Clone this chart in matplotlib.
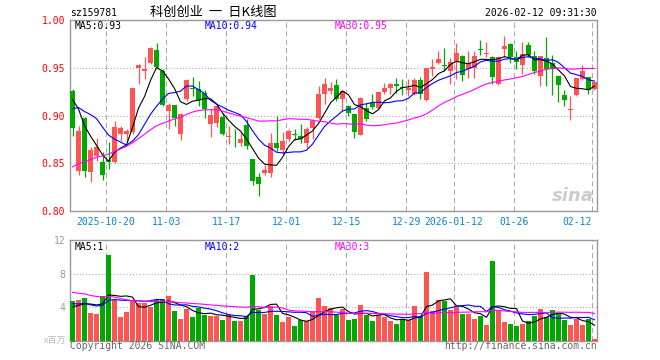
import numpy as np
import matplotlib
matplotlib.use('Agg')
import matplotlib.pyplot as plt

# 日K数据: 2025-10-10 .. 2026-02-12, 共88根
opens = [0.926, 0.8417, 0.8972, 0.8406, 0.858, 0.851, 0.853, 0.851, 0.8806, 0.8806,
         0.8823, 0.950, 0.9465, 0.9552, 0.9688, 0.9465, 0.9049, 0.9111, 0.8806, 0.917,
         0.9285, 0.9274, 0.924, 0.891, 0.8917, 0.8986, 0.8778, 0.8747, 0.8708, 0.8903,
         0.8545, 0.8354, 0.8396, 0.8396, 0.8708, 0.8642, 0.8753, 0.8802, 0.8788, 0.8708,
         0.8868, 0.8972, 0.9229, 0.9257, 0.9319, 0.917, 0.910, 0.9014, 0.8799, 0.9083,
         0.9135, 0.9076, 0.925, 0.9292, 0.9333, 0.9295, 0.9271, 0.9229, 0.9368, 0.916,
         0.9483, 0.9552, 0.9528, 0.9465, 0.9569, 0.9621, 0.9483, 0.950, 0.9694, 0.9639,
         0.9611, 0.9333, 0.9701, 0.975, 0.9611, 0.9528, 0.9743, 0.9621, 0.9413, 0.9604,
         0.9549, 0.9417, 0.9219, 0.9058, 0.9219, 0.9382, 0.9403, 0.9278]
highs = [0.928, 0.8892, 0.898, 0.8667, 0.8764, 0.8615, 0.872, 0.8938, 0.8892, 0.8858,
         0.929, 0.9535, 0.9611, 0.9715, 0.976, 0.9483, 0.9135, 0.9115, 0.9031, 0.9385,
         0.9403, 0.9361, 0.9264, 0.9066, 0.911, 0.903, 0.8892, 0.8858, 0.8823, 0.8962,
         0.8548, 0.8396, 0.8493, 0.8813, 0.899, 0.8823, 0.8858, 0.8858, 0.891, 0.8875,
         0.8962, 0.9309, 0.9396, 0.9351, 0.9378, 0.9264, 0.9105, 0.902, 0.9194, 0.9135,
         0.9222, 0.9257, 0.9344, 0.9344, 0.9396, 0.9378, 0.9382, 0.9396, 0.9403, 0.950,
         0.9587, 0.968, 0.9708, 0.9604, 0.976, 0.9638, 0.9674, 0.9674, 0.9795, 0.9771,
         0.9621, 0.9621, 0.983, 0.976, 0.9674, 0.9771, 0.9771, 0.9674, 0.9625, 0.982,
         0.9635, 0.9425, 0.927, 0.920, 0.9392, 0.9531, 0.9405, 0.935]
lows = [0.879, 0.8372, 0.8361, 0.8302, 0.8528, 0.832, 0.844, 0.850, 0.8736, 0.8729,
        0.8806, 0.9326, 0.9385, 0.9535, 0.950, 0.910, 0.8858, 0.8892, 0.8743, 0.915,
        0.9205, 0.910, 0.8979, 0.8778, 0.8875, 0.880, 0.8701, 0.8674, 0.868, 0.8653,
        0.8275, 0.816, 0.8372, 0.8354, 0.8632, 0.8597, 0.8736, 0.8743, 0.8708, 0.866,
        0.8753, 0.8962, 0.9125, 0.9229, 0.915, 0.9049, 0.899, 0.8764, 0.8795, 0.8938,
        0.9066, 0.9066, 0.9229, 0.9229, 0.9236, 0.9215, 0.9208, 0.9215, 0.917, 0.915,
        0.9413, 0.9535, 0.9465, 0.9326, 0.9378, 0.9361, 0.9396, 0.9389, 0.9632, 0.9611,
        0.9333, 0.9323, 0.9611, 0.9552, 0.9483, 0.9438, 0.9611, 0.9438, 0.9309, 0.9306,
        0.9219, 0.9139, 0.9097, 0.8958, 0.9208, 0.9375, 0.923, 0.9271]
closes = [0.8868, 0.884, 0.8424, 0.8639, 0.8667, 0.8372, 0.851, 0.8882, 0.8865, 0.8833,
          0.9285, 0.9524, 0.9483, 0.9708, 0.9507, 0.9111, 0.9108, 0.8979, 0.9014, 0.9368,
          0.928, 0.916, 0.9066, 0.9003, 0.910, 0.8806, 0.8785, 0.874, 0.8753, 0.8684,
          0.8313, 0.8278, 0.8431, 0.8708, 0.866, 0.8729, 0.884, 0.8795, 0.8753, 0.8858,
          0.8944, 0.9229, 0.9333, 0.9292, 0.917, 0.9257, 0.9031, 0.8823, 0.918, 0.8962,
          0.909, 0.925, 0.9285, 0.9333, 0.9309, 0.9288, 0.9285, 0.9368, 0.9229, 0.9493,
          0.9507, 0.9594, 0.9521, 0.9562, 0.9656, 0.9424, 0.9552, 0.9621, 0.9688, 0.9653,
          0.9403, 0.9611, 0.9726, 0.9611, 0.9562, 0.9646, 0.9632, 0.9465, 0.9621, 0.9486,
          0.9486, 0.9323, 0.916, 0.9063, 0.9392, 0.9462, 0.9271, 0.9347]
# 成交量 (百万)
volumes = [4.68, 4.88, 5.12, 3.32, 3.2, 5.36, 10.16, 4.88, 2.76, 3.44,
           4.68, 4.48, 4.48, 3.96, 4.88, 5.0, 5.28, 3.48, 2.6, 3.8,
           2.76, 3.88, 3.0, 2.88, 2.88, 2.48, 3.2, 2.36, 2.28, 2.88,
           7.8, 3.6, 3.16, 4.08, 3.08, 2.24, 2.76, 1.76, 2.4, 2.28,
           3.36, 5.12, 4.08, 3.88, 3.08, 3.8, 2.4, 2.6, 4.28, 3.08,
           2.28, 3.0, 2.8, 2.28, 2.0, 2.56, 2.4, 4.16, 2.96, 8.16,
           3.48, 4.88, 4.76, 3.6, 4.0, 3.2, 3.2, 2.6, 2.96, 1.88,
           9.48, 3.68, 2.16, 2.0, 1.76, 2.0, 2.36, 2.96, 3.8, 2.8,
           3.6, 3.16, 2.4, 1.88, 2.56, 1.88, 2.56, 0.2]

# 窗口之前29天 (图中不可见), 按均线起点反推的估计值
prior_closes = [0.78, 0.79, 0.785, 0.795, 0.80, 0.79, 0.805, 0.81, 0.80, 0.815,
                0.82, 0.815, 0.83, 0.825, 0.835, 0.84, 0.83, 0.845, 0.85, 0.854,
                0.87, 0.885, 0.895, 0.91, 0.925, 0.935, 0.93, 0.918, 0.915]
prior_volumes = [8.5, 7.2, 9.0, 6.8, 7.5, 8.2, 6.9, 7.9, 8.3, 7.5,
                 5.6, 4.8, 6.2, 5.0, 4.5, 5.3, 4.9, 5.4, 4.6, 4.7,
                 5.2, 4.6, 5.0, 4.4, 4.8, 3.9, 4.1, 3.5, 3.8]

date_ticks = [6, 16, 26, 36, 46, 56, 64, 74, 87]
date_labels = ['2025-10-20', '11-03', '11-17', '12-01', '12-15', '12-29',
               '2026-01-12', '01-26', '02-12']
price_ticks = [0.80, 0.85, 0.90, 0.95, 1.00]
vol_ticks = [4, 8, 12]

RED = '#ff5454'
GREEN = '#00a800'
MONO = 'DejaVu Sans Mono'
CJK = ['Noto Sans CJK SC', 'DejaVu Sans']


def moving_avg(vals, prior, n):
    s = np.array(prior + vals)
    out = np.convolve(s, np.ones(n) / n, mode='valid')
    return out[-len(vals):]


o = np.array(opens); c = np.array(closes)
x = np.arange(len(closes))
colors = np.where(c >= o, RED, GREEN)

fig = plt.figure(figsize=(6.6, 3.6), dpi=100)
W, H = 660.0, 360.0
ax = fig.add_axes([70 / W, 1 - 211 / H, 527 / W, 191 / H])
axv = fig.add_axes([70 / W, 1 - 340.5 / H, 527 / W, 100.5 / H])

# K线
ax.vlines(x, lows, highs, colors=colors, linewidth=0.9, zorder=3)
body_low = np.minimum(o, c)
body_h = np.maximum(np.abs(c - o), 0.0008)
ax.bar(x, body_h, bottom=body_low, width=0.8, color=colors, linewidth=0, zorder=3)

ax.plot(x, moving_avg(closes, prior_closes, 5), color='black', lw=0.8, zorder=4)
ax.plot(x, moving_avg(closes, prior_closes, 10), color='#0000ff', lw=0.8, zorder=4)
ax.plot(x, moving_avg(closes, prior_closes, 30), color='#ff00ff', lw=0.8, zorder=4)

# 成交量
axv.bar(x, volumes, width=0.8, color=colors, linewidth=0, zorder=3)
axv.plot(x, moving_avg(volumes, prior_volumes, 5), color='black', lw=0.8, zorder=4)
axv.plot(x, moving_avg(volumes, prior_volumes, 10), color='#0000ff', lw=0.8, zorder=4)
axv.plot(x, moving_avg(volumes, prior_volumes, 30), color='#ff00ff', lw=0.8, zorder=4)

for a in (ax, axv):
    a.set_xlim(-0.42, 87.42)
    for sp in a.spines.values():
        sp.set_color('#999999')
        sp.set_linewidth(1)
    a.set_xticks([t - 0.4 for t in date_ticks])
    a.xaxis.grid(True, linestyle=(0, (5, 3)), color='#aaaaaa', linewidth=0.75)
    a.yaxis.grid(True, linestyle=(0, (1, 2)), color='#aaaaaa', linewidth=0.75)
    a.set_axisbelow(True)
    a.tick_params(length=0)

ax.set_ylim(0.80, 1.00)
ax.set_yticks(price_ticks)
ax.set_yticklabels(['%.2f' % v for v in price_ticks], color='#ff0000',
                   fontfamily=MONO, fontsize=7)
ax.tick_params(axis='y', pad=3.5)
ax.set_xticklabels(date_labels, color='#0a84d0', fontfamily=MONO, fontsize=7)
ax.tick_params(axis='x', pad=4)
ax.get_xticklabels()[-1].set_ha('right')

axv.set_ylim(0, 12)
axv.set_yticks(vol_ticks)
axv.set_yticklabels([str(v) for v in vol_ticks], color='#999999',
                    fontfamily=MONO, fontsize=7)
axv.tick_params(axis='y', pad=3.5)
axv.set_xticklabels([])


def fx(px):
    return px / W


def fy(py):
    return 1 - py / H


# 标题
fig.text(fx(70), fy(13), 'sz159781', fontfamily=MONO, fontsize=7, va='center')
fig.text(fx(150), fy(12), '科创创业  一  日K线图', fontfamily=CJK, fontsize=9.5, va='center')
fig.text(fx(597), fy(13), '2026-02-12 09:31:30', fontfamily=MONO, fontsize=7,
         va='center', ha='right')

# 均线标签
fig.text(fx(75), fy(26), 'MA5:0.93', fontfamily=MONO, fontsize=7, va='center', color='black')
fig.text(fx(205), fy(26), 'MA10:0.94', fontfamily=MONO, fontsize=7, va='center', color='#0000ff')
fig.text(fx(335), fy(26), 'MA30:0.95', fontfamily=MONO, fontsize=7, va='center', color='#ff00ff')
fig.text(fx(75), fy(246.5), 'MA5:1', fontfamily=MONO, fontsize=7, va='center', color='black')
fig.text(fx(205), fy(246.5), 'MA10:2', fontfamily=MONO, fontsize=7, va='center', color='#0000ff')
fig.text(fx(335), fy(246.5), 'MA30:3', fontfamily=MONO, fontsize=7, va='center', color='#ff00ff')

fig.text(fx(66), fy(340), 'x百万', fontfamily=CJK, fontsize=6.5, va='center', ha='right',
         color='#bbbbbb')
fig.text(fx(70), fy(346), 'Copyright 2026 SINA.COM', fontfamily=MONO, fontsize=7,
         va='center', color='#666666')
fig.text(fx(597), fy(346), 'http://finance.sina.com.cn', fontfamily=MONO, fontsize=7,
         va='center', ha='right', color='#666666')

# 水印
fig.text(fx(594), fy(196), 'sina', fontsize=13, fontweight='bold', fontstyle='italic',
         color='#cccccc', ha='right', va='center')

plt.savefig('out.png', dpi=100)
